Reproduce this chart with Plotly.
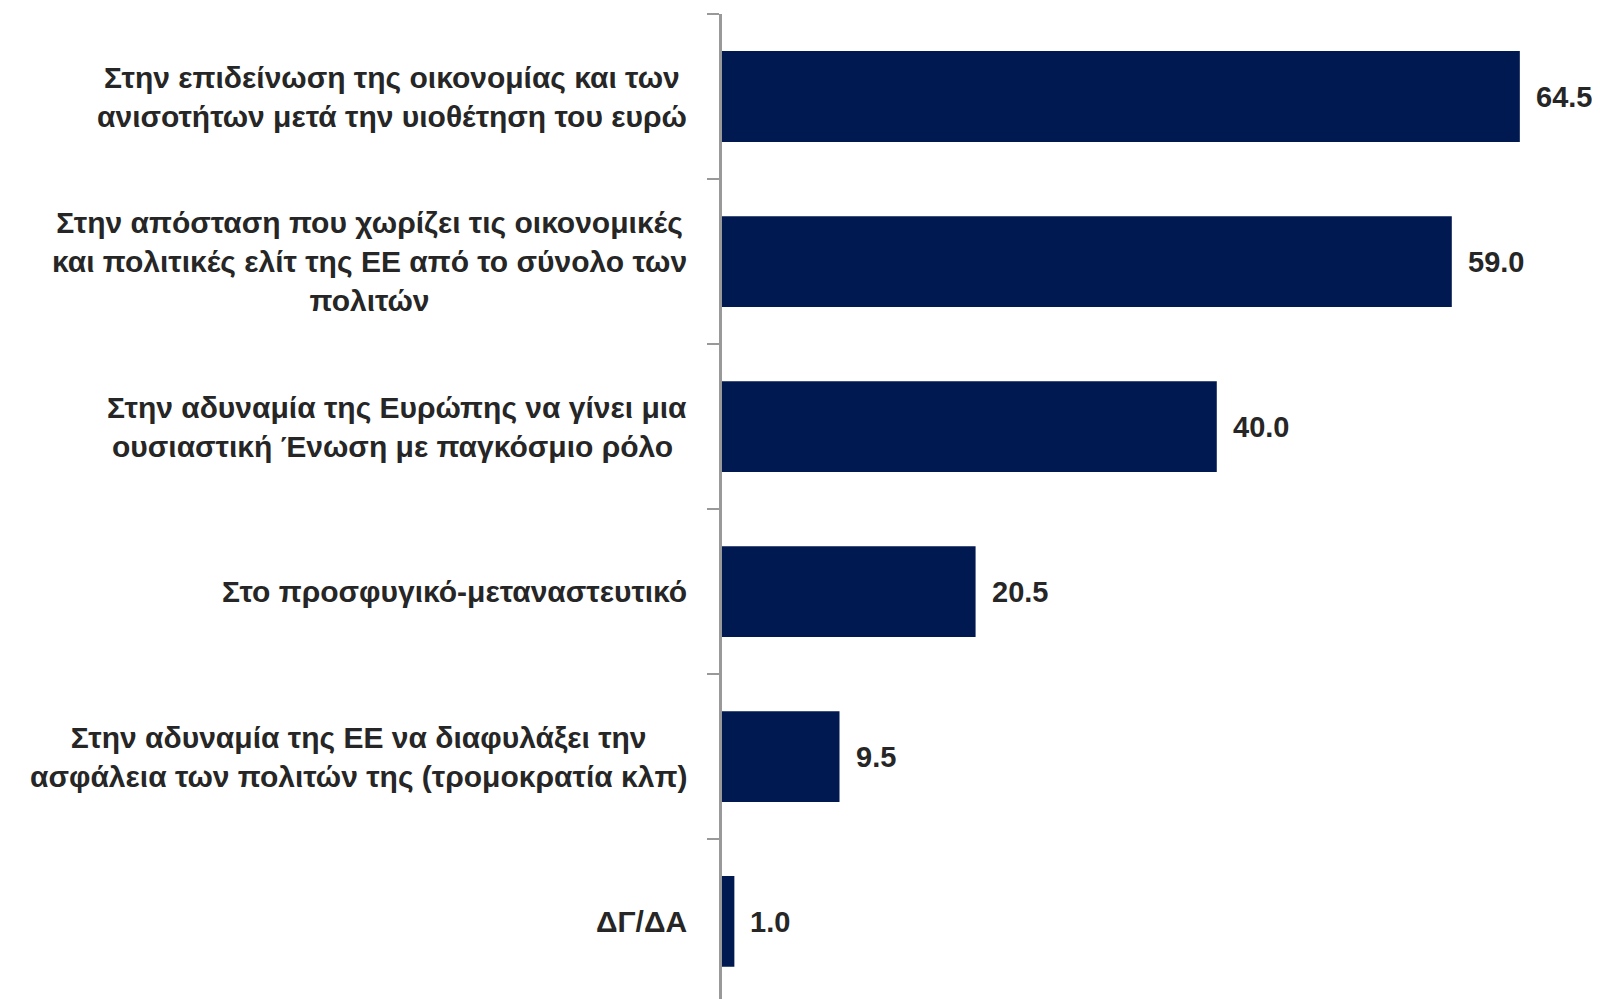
import plotly.graph_objects as go

categories = [
    "Στην επιδείνωση της οικονομίας και των<br>ανισοτήτων μετά την υιοθέτηση του ευρώ",
    "Στην απόσταση που χωρίζει τις οικονομικές<br>και πολιτικές ελίτ της ΕΕ από το σύνολο των<br>πολιτών",
    "Στην αδυναμία της Ευρώπης να γίνει μια<br>ουσιαστική Ένωση με παγκόσμιο ρόλο ",
    "Στο προσφυγικό-μεταναστευτικό",
    "Στην αδυναμία της ΕΕ να διαφυλάξει την<br>ασφάλεια των πολιτών της (τρομοκρατία κλπ)",
    "ΔΓ/ΔΑ",
]
values = [64.5, 59.0, 40.0, 20.5, 9.5, 1.0]
value_labels = ["64.5", "59.0", "40.0", "20.5", "9.5", "1.0"]

FONT = "Liberation Sans, Arial, sans-serif"
BAR = "#001950"
TXT = "#262626"

idx = list(range(len(categories)))

fig = go.Figure(go.Bar(
    x=values, y=idx, orientation="h",
    marker=dict(color=BAR, line=dict(width=0)),
    hoverinfo="skip",
))

annotations = []
for i, (c, v, lab) in enumerate(zip(categories, values, value_labels)):
    annotations.append(dict(
        x=0, y=i, xref="x", yref="y", text="<b>" + c + "</b>",
        showarrow=False, xanchor="right", yanchor="middle", align="center",
        xshift=-33, font=dict(family=FONT, size=30, color=TXT),
    ))
    annotations.append(dict(
        x=v, y=i, xref="x", yref="y", text="<b>" + lab + "</b>",
        showarrow=False, xanchor="left", yanchor="middle",
        xshift=14, font=dict(family=FONT, size=29, color=TXT),
    ))

fig.update_layout(
    width=1600, height=999,
    margin=dict(l=714, r=21, t=6, b=3),
    paper_bgcolor="white", plot_bgcolor="white",
    bargap=0.45,
    showlegend=False,
    xaxis=dict(range=[0, 69.93], visible=False, fixedrange=True),
    yaxis=dict(
        range=[5.5, -0.5], tickmode="array",
        tickvals=[-0.5, 0.5, 1.5, 2.5, 3.5, 4.5], ticktext=[""] * 6,
        ticks="outside", ticklen=12, tickwidth=2, tickcolor="#999999",
        showline=True, linecolor="#999999", linewidth=3,
        showgrid=False, zeroline=False, fixedrange=True,
    ),
    annotations=annotations,
)

fig.write_html("out.html")
